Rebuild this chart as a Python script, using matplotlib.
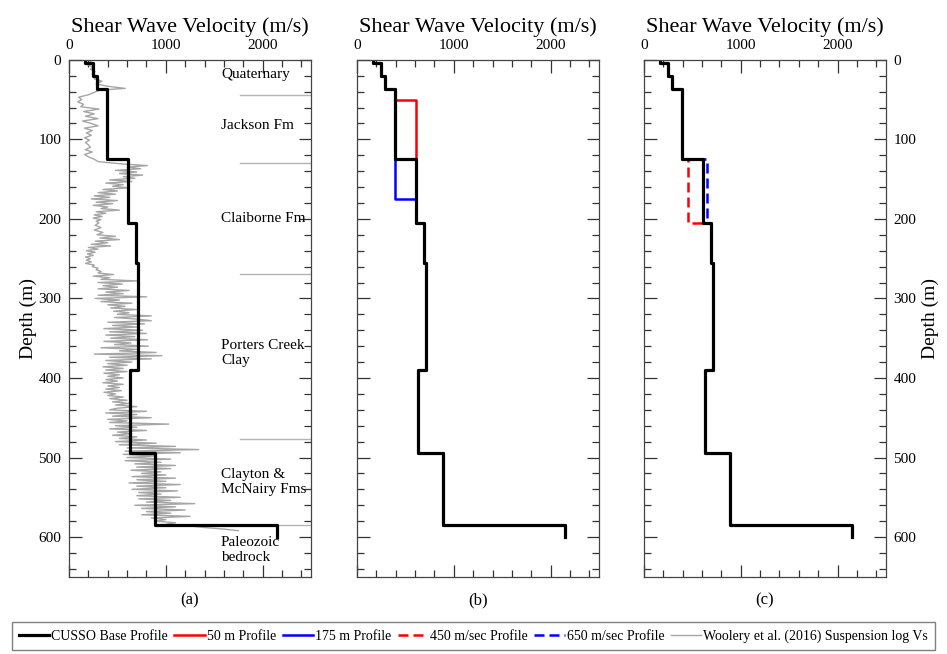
import numpy as np
import matplotlib
matplotlib.use("Agg")
import matplotlib.pyplot as plt
from matplotlib.ticker import MultipleLocator
from matplotlib.lines import Line2D

plt.rcParams['font.family'] = ['Liberation Serif', 'DejaVu Serif']

# CUSSO base profile: layer tops (m), bottom depth and Vs (m/s)
base_tops = [0, 4, 20, 37, 125, 205, 255, 390, 494, 585]
base_vs = [170, 245, 290, 392, 605, 690, 715, 630, 890, 2150]
bottom_depth = 600

# 50 m and 175 m profiles
p50_tops = [0, 4, 20, 37, 50, 205, 255, 390, 494, 585]
p50_vs = [170, 245, 290, 392, 605, 690, 715, 630, 890, 2150]
p175_tops = [0, 4, 20, 37, 175, 205, 255, 390, 494, 585]
p175_vs = [170, 245, 290, 392, 605, 690, 715, 630, 890, 2150]

# 450 and 650 m/sec profiles
p450_vs = [170, 245, 290, 392, 450, 690, 715, 630, 890, 2150]
p650_vs = [170, 245, 290, 392, 650, 690, 715, 630, 890, 2150]

# Woolery et al. (2016) suspension log
log_depth = [0, 3, 6, 9, 12, 15, 18, 21, 24, 27, 30, 33, 36, 38, 41, 44, 47, 50, 53, 56,
             59, 62, 65, 68, 71, 74, 77, 80, 83, 86, 89, 92, 95, 98, 101, 104, 107, 110, 113, 116,
             119, 122, 125, 128, 131, 133, 135, 137, 139, 141, 143, 145, 147, 149, 151, 153, 155, 157, 159, 161,
             163, 165, 167, 169, 171, 173, 175, 177, 179, 181, 183, 185, 187, 189, 191, 193, 195, 197, 199, 201,
             203, 205, 208, 211, 214, 217, 220, 222, 224, 226, 228, 230, 232, 234, 236, 238, 240, 242, 244, 246,
             248, 250, 252, 254, 256, 258, 260, 262, 264, 266, 268, 270, 272, 274, 276, 278, 280, 282, 284, 286,
             288, 290, 292, 294, 296, 298, 300, 302, 304, 306, 308, 310, 312, 314, 316, 318, 320, 322, 324, 326,
             328, 330, 332, 334, 336, 338, 340, 342, 344, 346, 348, 350, 352, 354, 356, 358, 360, 362, 364, 366,
             368, 370, 372, 374, 376, 378, 380, 382, 384, 386, 388, 390, 392, 394, 396, 398, 400, 402, 404, 406,
             408, 410, 412, 414, 416, 418, 420, 422, 424, 426, 428, 430, 432, 434, 436, 438, 440, 442, 444, 446,
             448, 450, 452, 454, 456, 458, 460, 462, 464, 466, 468, 470, 472, 474, 476, 478, 480, 482, 484, 486,
             488, 490, 492, 494, 496, 498, 500, 502, 504, 506, 508, 510, 512, 514, 516, 518, 520, 522, 524, 526,
             528, 530, 532, 534, 536, 538, 540, 542, 544, 546, 548, 550, 552, 554, 556, 558, 560, 562, 564, 566,
             568, 570, 572, 574, 576, 578, 580, 582, 584, 586, 588, 590, 592]
log_vs = [200, 230, 190, 250, 220, 270, 240, 300, 260, 340, 280, 380, 580, 320, 260, 200, 100, 130, 90, 150,
          120, 310, 150, 260, 170, 300, 140, 230, 300, 160, 240, 180, 230, 160, 210, 170, 200, 220, 170, 240,
          160, 200, 260, 300, 550, 810, 600, 740, 480, 700, 520, 760, 560, 680, 420, 650, 380, 560, 450, 620,
          350, 500, 300, 480, 260, 420, 230, 500, 280, 450, 250, 400, 330, 520, 280, 380, 260, 340, 250, 330,
          280, 310, 270, 330, 260, 350, 290, 480, 320, 520, 270, 400, 230, 430, 200, 300, 180, 270, 190, 250,
          170, 220, 180, 230, 170, 260, 240, 300, 280, 330, 300, 460, 250, 420, 330, 700, 300, 550, 350, 500,
          300, 620, 380, 560, 300, 800, 270, 520, 330, 650, 400, 580, 430, 700, 460, 620, 500, 850, 470, 700,
          850, 400, 780, 450, 700, 360, 760, 420, 800, 380, 680, 430, 810, 360, 640, 470, 820, 330, 700, 520,
          900, 260, 960, 420, 850, 380, 650, 400, 600, 350, 560, 380, 600, 360, 520, 400, 560, 380, 500, 350,
          560, 400, 520, 380, 540, 360, 480, 400, 560, 420, 600, 450, 620, 480, 700, 500, 420, 800, 380, 700,
          450, 850, 400, 600, 420, 1030, 480, 700, 420, 800, 500, 650, 450, 700, 520, 800, 480, 900, 520, 1100,
          600, 1340, 580, 1150, 560, 900, 600, 1050, 580, 950, 680, 1100, 700, 1050, 640, 950, 750, 1000, 650, 1100,
          700, 1000, 620, 1150, 700, 1000, 650, 1120, 720, 950, 700, 1150, 720, 1050, 800, 1300, 680, 1100, 750, 1200,
          800, 1050, 750, 1250, 850, 1000, 900, 1100, 1000, 1250, 1400, 1600, 1750]

# formation boundaries and labels (panel a)
boundary_depths = [44, 130, 269, 477, 585]
formations = ['Quaternary', 'Jackson Fm', 'Claiborne Fm', 'Porters Creek\nClay',
              'Clayton &\nMcNairy Fms', 'Paleozoic\nbedrock']
formation_depths = [19, 82, 199, 368, 531, 616]


def stairs(tops, vs):
    depths = list(tops[1:]) + [bottom_depth]
    x = np.repeat(vs, 2)
    y = np.column_stack([tops, depths]).ravel()
    return x, y


BLW, CLW = 2.3, 1.8
DASH = (4, 2)

fig = plt.figure(figsize=(9.47, 6.54), dpi=100)
top, height, width = 0.118, 0.7906, 0.2555
lefts = [0.0729, 0.377, 0.680]
axes = [fig.add_axes([l, top, width, height]) for l in lefts]

for i, ax in enumerate(axes):
    ax.set_xlim(0, 2500)
    ax.set_ylim(650, 0)
    ax.xaxis.set_major_locator(MultipleLocator(1000))
    ax.xaxis.set_minor_locator(MultipleLocator(200))
    ax.yaxis.set_major_locator(MultipleLocator(100))
    ax.yaxis.set_minor_locator(MultipleLocator(20))
    ax.tick_params(which='both', direction='in', top=True, bottom=True, left=True, right=True,
                   labeltop=True, labelbottom=False, labelsize=11, color='#333333')
    ax.tick_params(which='major', length=9, width=0.9, pad=5.5)
    ax.tick_params(which='minor', length=5, width=0.9)
    ax.xaxis.set_label_position('top')
    ax.set_xlabel('Shear Wave Velocity (m/s)', fontsize=16, labelpad=5)
    for s in ax.spines.values():
        s.set_color('#444444')
        s.set_linewidth(0.9)
    ax.text(0.5, -0.03, '(' + 'abc'[i] + ')', transform=ax.transAxes, ha='center', va='top', fontsize=12)

axes[0].tick_params(labelleft=True, labelright=False)
axes[0].set_ylabel('Depth (m)', fontsize=14, labelpad=1)
axes[1].tick_params(labelleft=False, labelright=False)
axes[2].tick_params(labelleft=False, labelright=True)
axes[2].yaxis.set_label_position('right')
axes[2].set_ylabel('Depth (m)', fontsize=14)

bx, by = stairs(base_tops, base_vs)

# panel a
ax = axes[0]
for d in boundary_depths:
    ax.plot([1770, 2500], [d, d], color='#b4b4b4', lw=1)
ax.plot(log_vs, log_depth, color='#a6a6a6', lw=1)
ax.plot(bx, by, color='black', lw=BLW)
for name, d in zip(formations, formation_depths):
    ax.text(1570, d, name, ha='left', va='center', fontsize=11, linespacing=1.2)

# panel b
ax = axes[1]
x, y = stairs(p50_tops, p50_vs)
ax.plot(x, y, color='red', lw=CLW)
x, y = stairs(p175_tops, p175_vs)
ax.plot(x, y, color='blue', lw=CLW)
ax.plot(bx, by, color='black', lw=BLW)

# panel c
ax = axes[2]
x, y = stairs(base_tops, p450_vs)
ax.plot(x, y, color='red', lw=CLW, dashes=DASH)
x, y = stairs(base_tops, p650_vs)
ax.plot(x, y, color='blue', lw=CLW, dashes=DASH)
ax.plot(bx, by, color='black', lw=BLW)

handles = [
    Line2D([], [], color='black', lw=BLW),
    Line2D([], [], color='red', lw=CLW),
    Line2D([], [], color='blue', lw=CLW),
    Line2D([], [], color='red', lw=CLW, dashes=DASH),
    Line2D([], [], color='blue', lw=CLW, dashes=DASH),
    Line2D([], [], color='#a6a6a6', lw=1),
]
labels = ['CUSSO Base Profile', '50 m Profile', '175 m Profile', '450 m/sec Profile',
          '650 m/sec Profile', 'Woolery et al. (2016) Suspension log Vs']
leg = fig.legend(handles, labels, loc='lower center', bbox_to_anchor=(0.5, 0.0),
                 ncol=6, fontsize=10, handlelength=2.2, handletextpad=0.15,
                 columnspacing=0.45, borderpad=0.5, borderaxespad=0.3,
                 fancybox=False, framealpha=1)
leg.get_frame().set_edgecolor('#808080')
leg.get_frame().set_linewidth(1)

fig.savefig('out.png', dpi=100)
